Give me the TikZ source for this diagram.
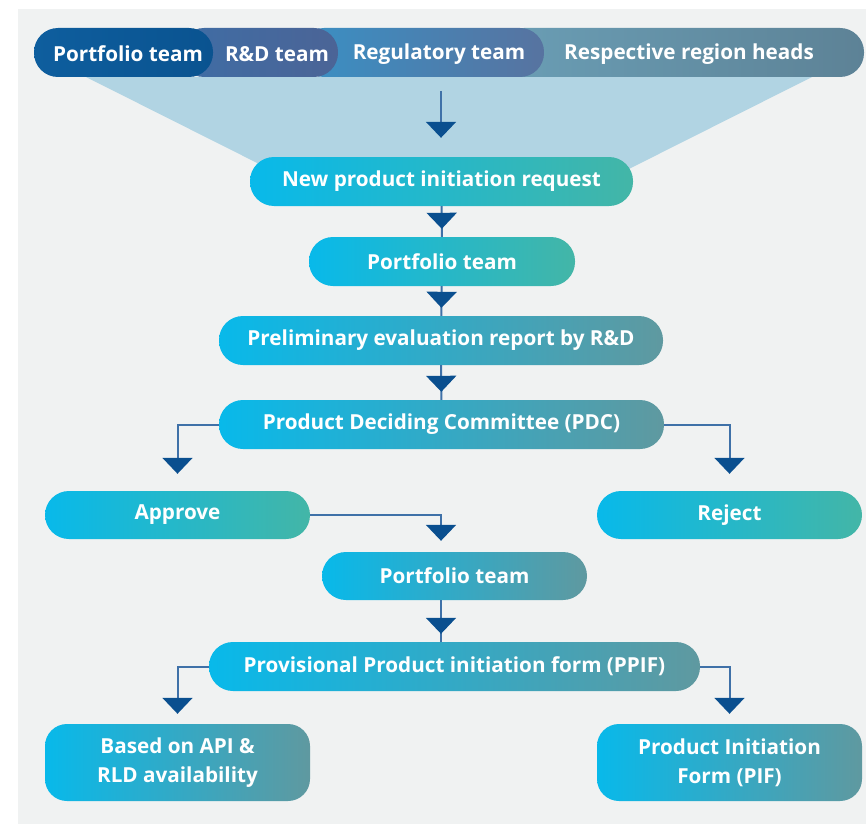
\documentclass[tikz,border=0pt]{standalone}
\usepackage{fontspec}
\setmainfont{Open Sans}
\usetikzlibrary{arrows.meta,calc,positioning,decorations.markings}

\definecolor{pagegray}{HTML}{F0F2F2}
\definecolor{funnelblue}{HTML}{B1D4E3}
\definecolor{linkblue}{HTML}{3F71A8}
\definecolor{tipblue}{HTML}{0A4F8F}
\definecolor{boxcyan}{HTML}{08B9EA}
\definecolor{boxmid}{HTML}{6CC3C8}
\definecolor{boxgreen}{HTML}{43B6A7}
\definecolor{boxmidb}{HTML}{62B2C6}
\definecolor{boxslate}{HTML}{5F99A0}
\definecolor{hdrAl}{HTML}{0E5E9E}
\definecolor{hdrAr}{HTML}{0A5390}
\definecolor{hdrBl}{HTML}{3F6DA5}
\definecolor{hdrBr}{HTML}{4B6496}
\definecolor{hdrCl}{HTML}{3A90C4}
\definecolor{hdrCr}{HTML}{5773A0}
\definecolor{hdrDl}{HTML}{6A9EB5}
\definecolor{hdrDr}{HTML}{5D8296}

\newcommand{\boxfont}{\fontsize{20.7}{29}\selectfont\bfseries}

\begin{document}
\begin{tikzpicture}
[
	              x = 1pt, y = -1pt,
	   stepbox/.style = { draw=none, rounded corners=24pt, minimum height=49pt,
	                      inner sep=0pt, text=white, font=\boxfont, align=center },
	   tealbox/.style = { stepbox, left color=boxcyan, middle color=boxmid, right color=boxgreen },
	  slatebox/.style = { stepbox, left color=boxcyan, middle color=boxmidb, right color=boxslate },
	    hdrbox/.style = { draw=none, rounded corners=24pt, minimum height=49pt, inner sep=0pt },
	   hdrtext/.style = { text=white, font=\boxfont },
	      link/.style = { draw=linkblue, line width=2pt },
	      thru/.style = { link, postaction={decorate},
	                      decoration={markings, mark=at position -8pt with
	                        {\arrow{Triangle[width=30pt,length=16pt,color=tipblue]}}} },
	    tipped/.style = { link, -{Triangle[width=30pt,length=16pt,color=tipblue]}, shorten >=10pt }
]
	\useasboundingbox (0,0) rectangle (866,824);
	\fill [pagegray] (18,9) rectangle (866,824);

	% funnel behind the header
	\fill [funnelblue] (86,77) -- (812,77) -- (605,181) -- (293,181) -- cycle;

	% header bar, drawn right to left so each pill overlaps the next
	\node (hdrD) at (682,52.5)   [hdrbox, minimum width=364pt, left color=hdrDl, right color=hdrDr] {};
	\node (hdrC) at (422,52.5)   [hdrbox, minimum width=244pt, left color=hdrCl, right color=hdrCr] {};
	\node (hdrB) at (259,52.5)   [hdrbox, minimum width=158pt, left color=hdrBl, right color=hdrBr] {};
	\node (hdrA) at (123.5,52.5) [hdrbox, minimum width=179pt, left color=hdrAl, right color=hdrAr] {};
	\node (portfolioH)  at (128,54) [hdrtext] {Portfolio team};
	\node (rndH)        at (277,54) [hdrtext] {R\&D team};
	\node (regulatoryH) at (439,54) [hdrtext] {Regulatory team};
	\node (regionH)     at (689,54) [hdrtext] {Respective region heads};

	\coordinate (funtop) at (441,91);
	\coordinate (spine)  at (441,0);

	% steps
	\node (newreq)   at (441.5,181.5) [tealbox,  minimum width=383pt] {New product initiation request};
	\node (port)     at (442,261.5)   [tealbox,  minimum width=266pt] {Portfolio team};
	\node (prelim)   at (441,340.5)   [slatebox, minimum width=444pt] {Preliminary evaluation report by R\&D};
	\node (pdc)      at (441.5,424.5) [slatebox, minimum width=445pt] {Product Deciding Committee (PDC)};
	\node (approve)  at (177.5,515)   [tealbox,  minimum width=265pt, minimum height=48pt] {Approve};
	\node (reject)   at (729.5,515)   [tealbox,  minimum width=265pt, minimum height=48pt] {Reject};
	\node (portb)    at (454.5,576)   [slatebox, minimum width=265pt, minimum height=48pt] {Portfolio team};
	\node (ppif)     at (454.5,666.5) [slatebox, minimum width=491pt] {Provisional Product initiation form (PPIF)};
	\node (based)    at (177.5,762.5) [slatebox, minimum width=265pt, minimum height=77pt, rounded corners=22pt] {Based on API \&\\RLD availability};
	\node (pif)      at (729.5,762.5) [slatebox, minimum width=265pt, minimum height=77pt, rounded corners=22pt] {Product Initiation\\Form (PIF)};

	% connectors
	\draw [tipped, shorten >=19pt] (funtop) -- (funtop |- newreq.north);
	\draw [thru] (newreq) -- (port);
	\draw [thru] (port) -- (prelim);
	\draw [thru] (prelim) -- (pdc);
	\draw [tipped, shorten >=17pt] (pdc.west) -| (approve.north);
	\draw [tipped, shorten >=17pt] (pdc.east) -| (reject.north);
	\draw [tipped, shorten >=11pt] (approve.east) -| (spine |- portb.north);
	\draw [thru] (spine |- portb.south) -- (spine |- ppif.north);
	\draw [tipped] (ppif.west) -| (based.north);
	\draw [tipped] (ppif.east) -| (pif.north);

\end{tikzpicture}
\end{document}
